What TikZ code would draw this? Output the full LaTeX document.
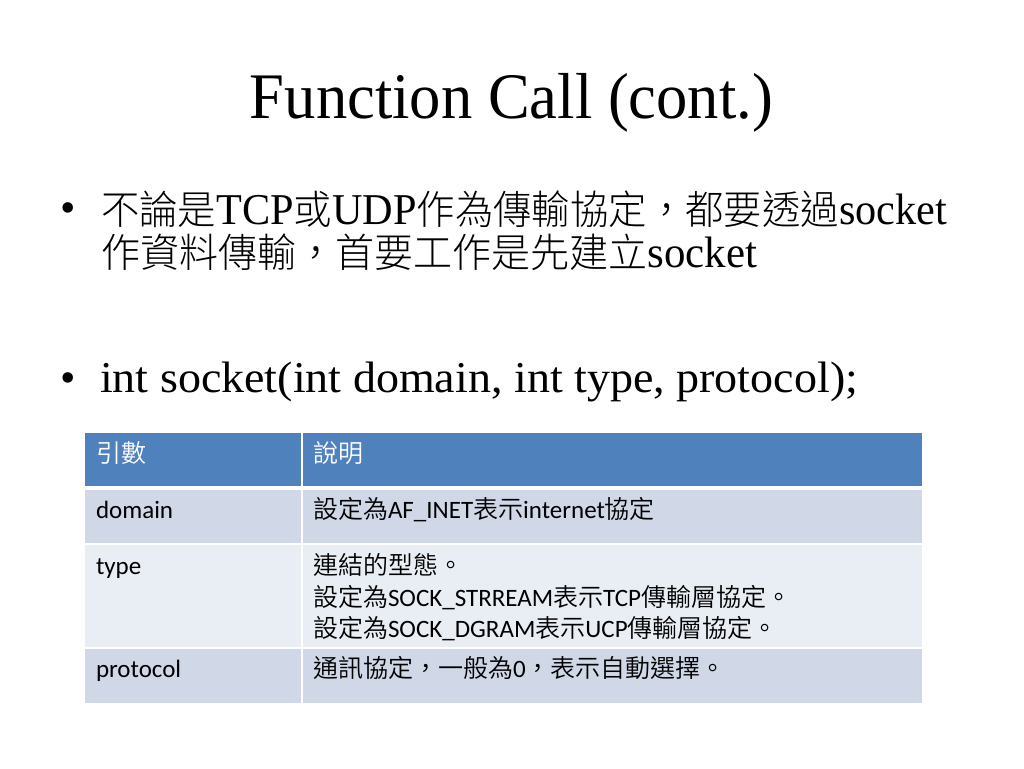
\documentclass[tikz,border=0pt]{standalone}
\usepackage{fontspec}
\usepackage{graphicx}
\setmainfont{Liberation Serif}
\newfontfamily\cjk{Noto Sans CJK TC DemiLight}
\newfontfamily\cjkl{Noto Sans CJK TC Light}
\newfontfamily\tabfont{Carlito}
\definecolor{hdr}{HTML}{4F81BD}
\definecolor{rowa}{HTML}{D0D8E8}
\definecolor{rowb}{HTML}{E9EDF4}
\tikzset{
  txt/.style={anchor=base west, inner sep=0pt, outer sep=0pt},
  cell/.style={anchor=base west, inner sep=0pt, outer sep=0pt, font=\tabfont\fontsize{25}{25}\selectfont},
  hcell/.style={cell, text=white},
}
\newcommand{\cj}[1]{{\cjk #1}}
\newcommand{\cjb}[1]{{\cjkl\fontsize{40}{40}\selectfont #1}}
\begin{document}
\begin{tikzpicture}[x=1pt,y=-1pt]
\useasboundingbox (0,0) rectangle (1024,768);
\fill[white] (0,0) rectangle (1024,768);
% title
\node[anchor=base, inner sep=0pt] (title) at (511.5,118) {\resizebox{523pt}{\height}{\fontsize{65}{65}\selectfont Function Call (cont.)}};
% bullet 1
\node[anchor=base, inner sep=0pt] (dot1) at (68,222) {\fontsize{44}{44}\selectfont •};
\node[txt] (b1a) at (101,224) {\resizebox{846pt}{\height}{\fontsize{44}{44}\selectfont\cjb{不論是}TCP\cjb{或}UDP\cjb{作為傳輸協定，都要透過}socket}};
\node[txt] (b1b) at (101,267) {\resizebox{656pt}{\height}{\fontsize{44}{44}\selectfont\cjb{作資料傳輸，首要工作是先建立}socket}};
% bullet 2
\node[anchor=base, inner sep=0pt] (dot2) at (68,392) {\fontsize{44}{44}\selectfont •};
\node[txt] (b2) at (100,392) {\resizebox{758pt}{\height}{\fontsize{44}{44}\selectfont int socket(int domain, int type, protocol);}};
% table cells
\fill[hdr] (85,433) rectangle (301,486);
\fill[hdr] (303,433) rectangle (922,486);
\fill[rowa] (85,490) rectangle (301,543);
\fill[rowa] (303,490) rectangle (922,543);
\fill[rowb] (85,545) rectangle (301,647);
\fill[rowb] (303,545) rectangle (922,647);
\fill[rowa] (85,649) rectangle (301,703);
\fill[rowa] (303,649) rectangle (922,703);
% table text
\node[hcell] (h1) at (96,462) {\cj{引數}};
\node[hcell] (h2) at (313,462) {\cj{說明}};
\node[cell] (r1a) at (96,518) {domain};
\node[cell] (r1b) at (313,518) {\cj{設定為}AF\_INET\cj{表示}internet\cj{協定}};
\node[cell] (r2a) at (96,574) {type};
\node[cell] (r2b) at (313,574) {\cj{連結的型態。}};
\node[cell] (r2c) at (313,606) {\cj{設定為}SOCK\_STRREAM\cj{表示}TCP\cj{傳輸層協定。}};
\node[cell] (r2d) at (313,637) {\cj{設定為}SOCK\_DGRAM\cj{表示}UCP\cj{傳輸層協定。}};
\node[cell] (r3a) at (96,677) {protocol};
\node[cell] (r3b) at (313,677) {\cj{通訊協定，一般為}0\cj{，表示自動選擇。}};
\end{tikzpicture}
\end{document}
